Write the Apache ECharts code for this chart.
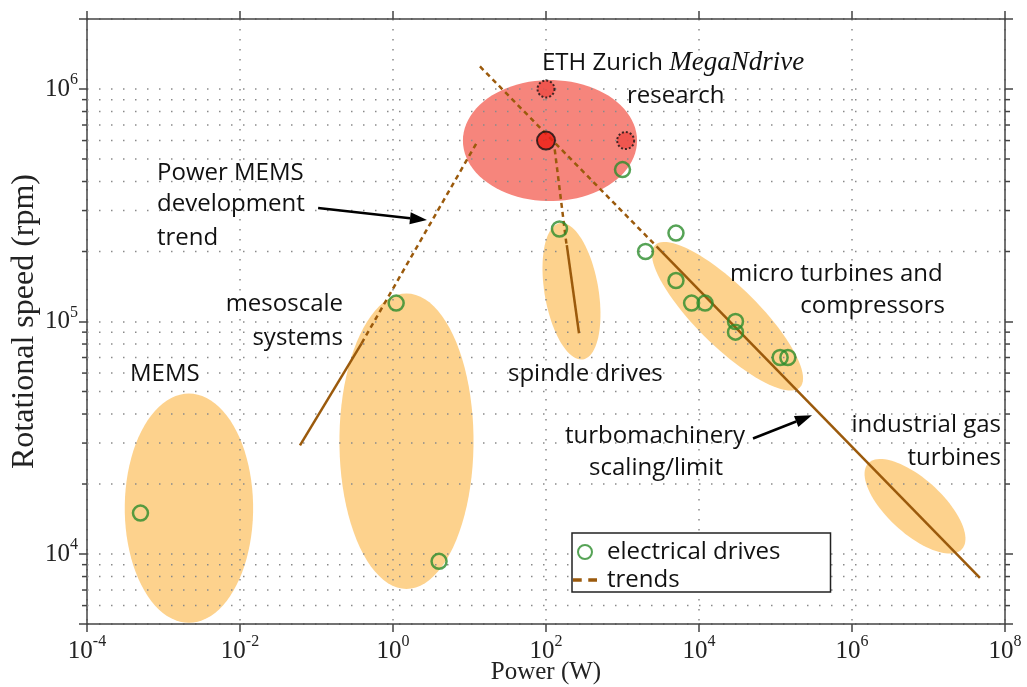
<!DOCTYPE html>
<html>
<head>
<meta charset="utf-8">
<script src="https://cdn.jsdelivr.net/npm/echarts@6/dist/echarts.min.js"></script>
<style>
  html, body { margin: 0; padding: 0; background: #fff; }
  #main { width: 1027px; height: 687px; }
</style>
</head>
<body>
<div id="main"></div>
<script>
// electrical drives: power (W) / speed (rpm)
const drivePower = [5e-4, 1.1, 4, 1000, 150, 5000, 2000, 5000, 8000, 12000, 30000, 30000, 1.15e5, 1.45e5];
const driveSpeed = [1.5e4, 1.2e5, 9.3e3, 4.5e5, 2.5e5, 2.4e5, 2.0e5, 1.5e5, 1.2e5, 1.2e5, 1.0e5, 9.0e4, 7.0e4, 7.0e4];

// MegaNdrive research point and targets
const ethPower = [100];
const ethSpeed = [6e5];
const ethTargetPower = [100, 1100];
const ethTargetSpeed = [1e6, 6e5];

// shaded regions: both ends of the long axis, width / length ratio
const regionNames = ['MEMS', 'mesoscale', 'spindle', 'micro', 'industrial', 'ETH'];
const regionStart = [[2.15e-3, 4.9e4], [1.5, 1.32e5], [152, 2.65e5], [2660, 2.13e5], [1.62e6, 2.45e4], [8.2, 6.0e5]];
const regionEnd = [[2.15e-3, 5.06e3], [1.5, 7.08e3], [305, 6.87e4], [2.09e5, 5.21e4], [2.74e7, 1.05e4], [1550, 6.0e5]];
const regionRatio = [0.56, 0.454, 0.39, 0.3, 0.43, 0.695];

// trend lines
const trendSolid = [
  [[0.0608, 2.93e4], [0.389, 8.06e4]],
  [[187, 2.13e5], [270, 8.9e4]],
  [[2800, 2.1e5], [4.7e7, 7.9e3]]
];
const trendDashed = [
  [[0.389, 8.06e4], [12.9, 6.0e5]],
  [[130, 5.5e5], [185, 2.15e5]],
  [[13.7, 1.25e6], [2800, 2.1e5]]
];

// annotation arrows
const arrowFrom = [[0.105, 3.08e5], [5.08e4, 3.14e4]];
const arrowTo = [[2.78, 2.73e5], [3.0e5, 3.95e4]];

// minor ticks of the speed axis
const yMinorTicks = [6e3, 7e3, 8e3, 9e3, 2e4, 3e4, 4e4, 5e4, 6e4, 7e4, 8e4, 9e4, 2e5, 3e5, 4e5, 5e5, 6e5, 7e5, 8e5, 9e5];

const chart = echarts.init(document.getElementById('main'), null, { renderer: 'canvas' });

const AXIS = '#444';
const DOTS = '#8a8a8a';
const BROWN = '#9b5a0c';
const SANS = 'Open Sans';
const SERIF = 'Liberation Serif';

function powLabel(v) {
  const e = Math.round(Math.log10(v));
  if (Math.abs(v - Math.pow(10, e)) / v > 1e-6) return '';
  return '{b|10}{e|' + e + '}';
}
const powRich = {
  b: { fontFamily: SERIF, fontSize: 25, color: '#222', lineHeight: 34 },
  e: { fontFamily: SERIF, fontSize: 16, color: '#222', lineHeight: 16, verticalAlign: 'top' }
};

const tickStyle = { show: true, inside: false, length: 8, lineStyle: { color: AXIS, width: 1.5 } };
const lineStyleAxis = { show: true, onZero: false, lineStyle: { color: AXIS, width: 1.5 } };

const regionData = regionNames.map((n, i) => [regionStart[i][0], regionStart[i][1], regionEnd[i][0], regionEnd[i][1], regionRatio[i]]);

// ellipse drawn between the two long-axis ends
function renderRegion(params, api) {
  const a = api.coord([api.value(0), api.value(1)]);
  const b = api.coord([api.value(2), api.value(3)]);
  const ratio = api.value(4);
  const cx = (a[0] + b[0]) / 2, cy = (a[1] + b[1]) / 2;
  const rx = Math.hypot(b[0] - a[0], b[1] - a[1]) / 2;
  const ry = rx * ratio;
  const ang = Math.atan2(b[1] - a[1], b[0] - a[0]);
  const pts = [];
  for (let k = 0; k < 90; k++) {
    const t = k / 90 * Math.PI * 2;
    const px = rx * Math.cos(t), py = ry * Math.sin(t);
    pts.push([cx + px * Math.cos(ang) - py * Math.sin(ang), cy + px * Math.sin(ang) + py * Math.cos(ang)]);
  }
  const isEth = regionNames[params.dataIndex] === 'ETH';
  return { type: 'polygon', shape: { points: pts }, style: { fill: isEth ? '#f6857c' : '#fdd28d' } };
}

function renderMinor(params, api) {
  const cs = params.coordSys;
  const y = api.coord([1, api.value(1)])[1];
  return {
    type: 'group',
    children: [
      { type: 'line', shape: { x1: cs.x, y1: y, x2: cs.x + cs.width, y2: y }, style: { stroke: DOTS, lineWidth: 1.5, lineDash: [1.5, 10.5] } },
      { type: 'line', shape: { x1: cs.x - 5, y1: y, x2: cs.x, y2: y }, style: { stroke: AXIS, lineWidth: 1.5 } },
      { type: 'line', shape: { x1: cs.x + cs.width, y1: y, x2: cs.x + cs.width + 5, y2: y }, style: { stroke: AXIS, lineWidth: 1.5 } }
    ]
  };
}

function renderArrow(params, api) {
  const p1 = api.coord([api.value(0), api.value(1)]);
  const p2 = api.coord([api.value(2), api.value(3)]);
  const ang = Math.atan2(p2[1] - p1[1], p2[0] - p1[0]);
  const L = 17, W = 6;
  const bx = p2[0] - L * Math.cos(ang), by = p2[1] - L * Math.sin(ang);
  const nx = -Math.sin(ang), ny = Math.cos(ang);
  return {
    type: 'group',
    children: [
      { type: 'line', shape: { x1: p1[0], y1: p1[1], x2: bx, y2: by }, style: { stroke: '#000', lineWidth: 2.5 } },
      { type: 'polygon', shape: { points: [[p2[0], p2[1]], [bx + nx * W, by + ny * W], [bx - nx * W, by - ny * W]] }, style: { fill: '#000' } }
    ]
  };
}

const series = [
  {
    type: 'custom', name: 'regions', z: -1, silent: true,
    renderItem: renderRegion, data: regionData, encode: { x: [0, 2], y: [1, 3] }
  },
  {
    type: 'custom', name: 'minor', z: 1, silent: true,
    renderItem: renderMinor, data: yMinorTicks.map(v => [1, v]), encode: { x: 0, y: 1 }
  }
];

trendSolid.forEach(seg => series.push({
  type: 'line', name: 'trend line', data: seg, symbol: 'none', z: 2, silent: true,
  itemStyle: { color: BROWN },
  lineStyle: { color: BROWN, width: 2.5, type: 'solid' }
}));
trendDashed.forEach(seg => series.push({
  type: 'line', name: 'trends', data: seg, symbol: 'none', z: 2, silent: true,
  itemStyle: { color: BROWN },
  lineStyle: { color: BROWN, width: 2.5, type: [5, 4] }
}));

series.push({
  type: 'custom', name: 'arrows', z: 3, silent: true,
  renderItem: renderArrow, data: arrowFrom.map((p, i) => [p[0], p[1], arrowTo[i][0], arrowTo[i][1]]),
  encode: { x: [0, 2], y: [1, 3] }
});
series.push({
  type: 'scatter', name: 'electrical drives', z: 4,
  data: drivePower.map((p, i) => [p, driveSpeed[i]]),
  symbol: 'circle', symbolSize: 15,
  itemStyle: { color: 'rgba(255,255,255,0)', borderColor: '#2c8c2c', borderWidth: 2.5 }
});
series.push({
  type: 'scatter', name: 'MegaNdrive targets', z: 4,
  data: ethTargetPower.map((p, i) => [p, ethTargetSpeed[i]]),
  symbol: 'circle', symbolSize: 17,
  itemStyle: { color: '#ef4a44', borderColor: '#111', borderWidth: 2, borderType: [2, 2] }
});
series.push({
  type: 'scatter', name: 'MegaNdrive', z: 5,
  data: ethPower.map((p, i) => [p, ethSpeed[i]]),
  symbol: 'circle', symbolSize: 18,
  itemStyle: { color: '#ee1a12', borderColor: '#111', borderWidth: 2 }
});

const notes = [
  { t: 'Power MEMS', x: 157, y: 173, a: 'left' },
  { t: 'development', x: 157, y: 204, a: 'left' },
  { t: 'trend', x: 157, y: 238, a: 'left' },
  { t: 'mesoscale', x: 343, y: 304, a: 'right' },
  { t: 'systems', x: 343, y: 338, a: 'right' },
  { t: 'MEMS', x: 130, y: 374, a: 'left' },
  { t: 'research', x: 627, y: 96, a: 'left' },
  { t: 'spindle drives', x: 508, y: 374, a: 'left' },
  { t: 'micro turbines and', x: 730, y: 274, a: 'left' },
  { t: 'compressors', x: 945, y: 306, a: 'right' },
  { t: 'turbomachinery', x: 655, y: 436, a: 'center' },
  { t: 'scaling/limit', x: 656, y: 468, a: 'center' },
  { t: 'industrial gas', x: 1001, y: 425, a: 'right' },
  { t: 'turbines', x: 1001, y: 458, a: 'right' }
];
const graphic = notes.map(n => ({
  type: 'text', x: n.x, y: n.y, z: 10,
  style: { text: n.t, fontFamily: SANS, fontSize: 24, fill: '#111', align: n.a, verticalAlign: 'middle' }
}));
graphic.push({
  type: 'text', x: 542, y: 63, z: 10,
  style: {
    text: '{a|ETH Zurich }{b|MegaNdrive}', align: 'left', verticalAlign: 'middle',
    rich: {
      a: { fontFamily: SANS, fontSize: 24, fill: '#111' },
      b: { fontFamily: SERIF, fontStyle: 'italic', fontSize: 27, fill: '#111' }
    }
  }
});

chart.setOption({
  animation: false,
  backgroundColor: '#fff',
  grid: { left: 87, right: 22, top: 19, bottom: 63, containLabel: false, outerBoundsMode: 'none' },
  xAxis: [
    {
      type: 'log', logBase: 10, min: 1e-4, max: 1e8, interval: 2, position: 'bottom',
      name: 'Power (W)', nameLocation: 'middle', nameGap: 36, nameMoveOverlap: false,
      nameTextStyle: { fontFamily: SERIF, fontSize: 25, color: '#222' },
      axisLine: lineStyleAxis, axisTick: tickStyle,
      axisLabel: { formatter: powLabel, rich: powRich, margin: 10, showMinLabel: true, showMaxLabel: true, hideOverlap: false },
      splitLine: { show: true, lineStyle: { color: DOTS, width: 1.5, type: [1.5, 8.5] } }
    },
    {
      type: 'log', logBase: 10, min: 1e-4, max: 1e8, interval: 2, position: 'top',
      axisLine: lineStyleAxis, axisTick: tickStyle, axisLabel: { show: false }, splitLine: { show: false }
    }
  ],
  yAxis: [
    {
      type: 'log', logBase: 10, min: 5000, max: 2e6, position: 'left',
      name: 'Rotational speed (rpm)', nameLocation: 'middle', nameGap: 46, nameMoveOverlap: false,
      nameTextStyle: { fontFamily: SERIF, fontSize: 32, color: '#222' },
      axisLine: lineStyleAxis, axisTick: tickStyle,
      axisLabel: { formatter: powLabel, rich: powRich, margin: 9, showMinLabel: true, showMaxLabel: true, hideOverlap: false },
      splitLine: { show: true, lineStyle: { color: DOTS, width: 1.5, type: [1.5, 10.5] } }
    },
    {
      type: 'log', logBase: 10, min: 5000, max: 2e6, position: 'right',
      axisLine: lineStyleAxis, axisTick: tickStyle, axisLabel: { show: false }, splitLine: { show: false }
    }
  ],
  legend: {
    data: [
      { name: 'electrical drives' },
      { name: 'trends', icon: 'path://M0,0H8V3H0Z M14,0H22V3H14Z', itemStyle: { color: BROWN } }
    ],
    orient: 'vertical', left: 572, top: 533,
    padding: [7, 50, 0, 1],
    itemWidth: 24, itemHeight: 14, itemGap: 4,
    borderColor: '#222', borderWidth: 1.5, backgroundColor: '#fff',
    textStyle: { fontFamily: SANS, fontSize: 24, lineHeight: 24, color: '#111', padding: [0, 0, 0, 5] },
    selectedMode: false
  },
  graphic: graphic,
  series: series
});
</script>
</body>
</html>
